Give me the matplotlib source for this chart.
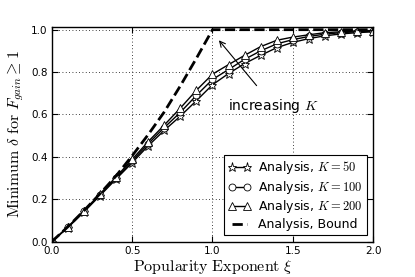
import matplotlib
matplotlib.use("Agg")
import matplotlib.pyplot as plt

# Data
xi = [0.0, 0.1, 0.2, 0.3, 0.4, 0.5, 0.6, 0.7, 0.8, 0.9, 1.0,
      1.1, 1.2, 1.3, 1.4, 1.5, 1.6, 1.7, 1.8, 1.9, 2.0]
k50 = [0.0, 0.066, 0.140, 0.217, 0.295, 0.372, 0.452, 0.525, 0.592, 0.665, 0.740,
       0.793, 0.840, 0.879, 0.915, 0.940, 0.958, 0.971, 0.980, 0.986, 0.990]
k100 = [0.0, 0.068, 0.143, 0.221, 0.300, 0.380, 0.462, 0.538, 0.610, 0.690, 0.765,
        0.812, 0.860, 0.900, 0.933, 0.953, 0.968, 0.979, 0.986, 0.990, 0.993]
k200 = [0.0, 0.070, 0.146, 0.225, 0.305, 0.388, 0.472, 0.550, 0.630, 0.714, 0.790,
        0.835, 0.879, 0.920, 0.950, 0.965, 0.976, 0.986, 0.990, 0.994, 0.996]
bound = [0.0, 0.070, 0.146, 0.226, 0.310, 0.405, 0.505, 0.612, 0.735, 0.865, 1.0,
         1.0, 1.0, 1.0, 1.0, 1.0, 1.0, 1.0, 1.0, 1.0, 1.0]

plt.rcParams["mathtext.fontset"] = "cm"
plt.rcParams["font.family"] = "DejaVu Sans"

fig = plt.figure(figsize=(4.15, 2.77), dpi=100)
ax = fig.add_axes([0.125, 0.128, 0.774, 0.774])

style = dict(color="black", lw=1.0, markerfacecolor="white",
             markeredgecolor="black", markeredgewidth=0.6)
ax.plot(xi, k50, marker="*", markersize=6.5, label=r"Analysis, $K=50$", **style)
ax.plot(xi, k100, marker="o", markersize=5, label=r"Analysis, $K=100$", **style)
ax.plot(xi, k200, marker="^", markersize=5.5, label=r"Analysis, $K=200$", **style)
ax.plot(xi, bound, "k--", lw=2, label="Analysis, Bound")

ax.set_xlim(0, 2.0)
ax.set_ylim(0, 1.012)
ax.set_xticks([0.0, 0.5, 1.0, 1.5, 2.0])
ax.set_yticks([0.0, 0.2, 0.4, 0.6, 0.8, 1.0])
ax.tick_params(direction="in", top=True, right=True, labelsize=7.5, length=4, pad=3)
ax.grid(True, color="black", linestyle=(0, (1, 3)), linewidth=0.6)
for s in ax.spines.values():
    s.set_linewidth(1.0)

ax.set_xlabel(r"$\mathrm{Popularity\ Exponent}\ \xi$", fontsize=11.5, labelpad=2)
ax.set_ylabel(r"$\mathrm{Minimum}\ \delta\ \mathrm{for}\ F_{gain} \geq 1$", fontsize=11.5, labelpad=4)

ax.annotate(r"increasing $K$", xy=(1.04, 0.95), xytext=(1.38, 0.64),
            fontsize=10, ha="center", va="center",
            arrowprops=dict(arrowstyle="->", color="black", lw=0.8,
                            shrinkA=8, shrinkB=0))

leg = ax.legend(loc="lower right", fontsize=9, fancybox=False, framealpha=1,
                edgecolor="black", handlelength=1.8, handletextpad=0.6,
                borderaxespad=0.5, labelspacing=0.2, borderpad=0.35, numpoints=2)
leg.get_frame().set_linewidth(0.8)

fig.savefig("out.png", dpi=100)
